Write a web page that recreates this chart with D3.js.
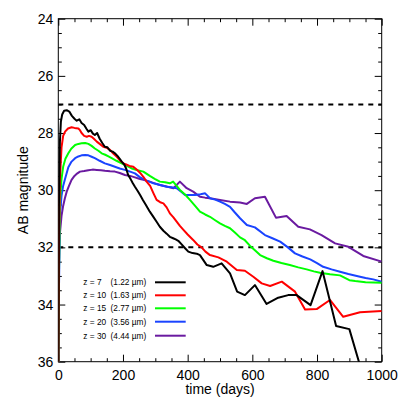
<!DOCTYPE html>
<html><head><meta charset="utf-8">
<script src="https://cdn.jsdelivr.net/npm/d3@7"></script>
<style>
html,body{margin:0;padding:0;background:#fff;}
svg{display:block;}
text{font-family:"Liberation Sans",Arial,Helvetica,sans-serif;fill:#000;}
</style></head>
<body><svg id="c" width="399" height="399"></svg>
<script>
// ---- data ----
const xTicks = [0, 200, 400, 600, 800, 1000];
const yTicks = [24, 26, 28, 30, 32, 34, 36];
const hLines = [27, 32];
const labels = ["z = 7", "z = 10", "z = 15", "z = 20", "z = 30"];
const waves = ["(1.22 µm)", "(1.63 µm)", "(2.77 µm)", "(3.56 µm)", "(4.44 µm)"];
const colors = ["#000000", "#ff0000", "#00ff00", "#1a44ff", "#6a1aa0"];

const t7 = [0,2,5,8,12,18,26,34,42,50,57,65,72,80,87,93,100,107,113,120,128,136,144,152,160,168,175,183,190,196,204,210,216,224,230,237,245,253,262,270,283,295,305,314,325,335,345,355,363,371,380,392,402,415,428,438,459,479,505,531,553,577,608,644,680,711,737,780,817,859,900,945];
const m7 = [36.5,30.5,28.3,27.6,27.35,27.22,27.2,27.25,27.4,27.5,27.57,27.52,27.65,27.72,27.85,27.95,27.9,28.02,28.07,28.0,28.2,28.35,28.48,28.5,28.62,28.65,28.71,28.8,28.9,29.0,29.1,29.25,29.47,29.62,29.75,29.88,30.02,30.17,30.35,30.5,30.75,30.95,31.12,31.28,31.42,31.52,31.63,31.68,31.72,31.77,31.88,32.03,32.15,32.2,32.22,32.27,32.62,32.68,32.56,32.91,33.55,33.67,33.32,33.98,33.76,33.67,33.67,34.02,32.83,34.75,34.86,36.6];

const t10 = [0,2,5,10,15,21,30,41,50,62,67,72,80,88,95,103,110,119,128,139,150,160,170,181,190,201,210,220,232,245,255,263,273,284,294,304,315,325,335,345,356,366,376,387,400,417,430,443,455,469,495,521,552,577,603,629,655,691,732,763,799,840,881,933,1000];
const m10 = [36.5,32.0,29.6,28.5,28.1,27.95,27.84,27.8,27.82,27.84,27.9,28.0,28.1,28.13,28.1,28.13,28.2,28.3,28.38,28.48,28.52,28.59,28.72,28.83,28.95,29.06,29.1,29.15,29.18,29.3,29.42,29.53,29.7,29.85,30.1,30.34,30.42,30.46,30.6,30.81,30.95,31.1,31.25,31.39,31.55,31.74,31.9,32.0,32.15,32.27,32.35,32.5,32.79,32.82,33.03,33.26,33.35,33.2,33.55,34.17,34.16,33.84,34.43,34.27,34.23];

const t15 = [0,2,5,10,15,22,31,40,52,62,72,83,93,103,113,124,134,145,155,165,180,196,212,227,245,263,283,298,314,330,345,355,366,376,392,407,423,438,454,469,485,500,515,531,546,562,577,593,608,624,645,665,690,716,742,768,790,809,840,871,900,918,950,1000];
const m15 = [36.5,33.0,30.4,29.6,29.18,28.9,28.71,28.55,28.42,28.38,28.36,28.35,28.38,28.45,28.54,28.62,28.71,28.76,28.82,28.88,28.97,29.06,29.15,29.24,29.3,29.35,29.5,29.6,29.7,29.72,29.76,29.7,29.85,29.99,30.15,30.34,30.55,30.75,30.85,30.93,31.05,31.16,31.25,31.33,31.48,31.65,31.75,31.95,32.1,32.27,32.38,32.47,32.55,32.62,32.7,32.77,32.84,32.89,32.94,32.98,33.15,33.18,33.22,33.24];

const t20 = [0,2,5,10,15,21,31,41,52,62,72,83,93,103,113,128,144,160,175,190,206,222,237,253,270,294,315,335,350,366,380,392,407,423,440,454,469,485,500,515,531,546,562,583,608,639,662,686,710,732,755,779,800,819,845,871,897,923,950,974,1000];
const m20 = [36.5,33.5,30.9,30.2,29.85,29.6,29.2,29.0,28.88,28.82,28.78,28.77,28.78,28.83,28.88,28.97,29.06,29.12,29.18,29.24,29.29,29.35,29.41,29.55,29.65,29.76,29.82,29.88,29.9,29.93,30.05,30.17,30.17,30.17,30.14,30.11,30.28,30.33,30.4,30.48,30.58,30.78,30.98,31.22,31.3,31.57,31.68,31.8,32.0,32.21,32.32,32.42,32.55,32.68,32.77,32.85,32.93,33.0,33.07,33.12,33.2];

const t30 = [0,1,3,5,10,15,20,26,33,41,50,58,67,80,93,106,119,132,144,160,175,190,206,222,237,250,263,283,298,314,335,356,376,397,417,438,454,469,500,531,562,583,608,639,673,706,742,778,814,856,897,943,1000];
const m30 = [36.5,33.5,32.1,31.5,30.9,30.55,30.3,30.05,29.85,29.64,29.5,29.42,29.35,29.33,29.3,29.28,29.29,29.3,29.32,29.34,29.35,29.4,29.47,29.5,29.55,29.6,29.64,29.7,29.76,29.82,29.87,29.93,29.7,29.93,30.05,30.23,30.26,30.28,30.34,30.4,30.43,30.48,30.28,30.23,30.96,30.9,31.28,31.37,31.57,31.86,31.98,32.3,32.5];

const seriesT = [t7, t10, t15, t20, t30];
const seriesM = [m7, m10, m15, m20, m30];

// ---- chart ----
const svg = d3.select("#c");
const L = 58.3, R = 381.7, T = 18.7, B = 361.7;
const x = d3.scaleLinear().domain([0, 1000]).range([L, R]);
const y = d3.scaleLinear().domain([24, 36]).range([T, B]);

svg.append("defs").append("clipPath").attr("id", "clip")
  .append("rect").attr("x", L).attr("y", T).attr("width", R - L).attr("height", B - T);

const xMinor = d3.range(0, 1001, 50);
const yMinor = d3.range(24, 36.01, 0.5);
function addAxis(gen, tr, vals, size, pad) {
  const g = svg.append("g").attr("transform", tr)
    .call(gen.tickValues(vals).tickSize(-size).tickPadding(pad)
      .tickFormat(pad ? d3.format("d") : ""));
  g.select(".domain").remove();
  g.selectAll(".tick line").attr("stroke", "#000").attr("stroke-width", 1);
  g.selectAll("text").style("font-size", "14px").attr("fill", "#000");
  return g;
}
addAxis(d3.axisBottom(x), `translate(0,${B})`, xMinor.filter(v => v % 200 !== 0), 3.5, 0);
addAxis(d3.axisBottom(x), `translate(0,${B})`, xTicks, 7, 8.4);
addAxis(d3.axisTop(x), `translate(0,${T})`, xMinor.filter(v => v % 200 !== 0), 3.5, 0);
addAxis(d3.axisTop(x), `translate(0,${T})`, xTicks, 7, 0);
addAxis(d3.axisLeft(y), `translate(${L},0)`, yMinor.filter(v => v % 2 !== 0), 3.5, 0);
addAxis(d3.axisLeft(y), `translate(${L},0)`, yTicks, 7, 5);
addAxis(d3.axisRight(y), `translate(${R},0)`, yMinor.filter(v => v % 2 !== 0), 3.5, 0);
addAxis(d3.axisRight(y), `translate(${R},0)`, yTicks, 7, 0);

// frame
svg.append("rect").attr("x", L).attr("y", T).attr("width", R - L).attr("height", B - T)
  .attr("fill", "none").attr("stroke", "#000").attr("stroke-width", 1);

// dashed reference lines
svg.append("g").selectAll("line").data(hLines).join("line")
  .attr("x1", x(0)).attr("x2", x(1000))
  .attr("y1", d => y(d)).attr("y2", d => y(d))
  .attr("stroke", "#000").attr("stroke-width", 2).attr("stroke-dasharray", "5,5");

// curves
const line = d3.line().x(d => x(d[0])).y(d => y(d[1]));
const gc = svg.append("g").attr("clip-path", "url(#clip)");
const order = [4, 3, 2, 1, 0];
order.forEach(i => {
  const pts = seriesT[i].map((t, j) => [t, seriesM[i][j]]);
  gc.append("path").datum(pts).attr("d", line)
    .attr("fill", "none").attr("stroke", colors[i]).attr("stroke-width", 2)
    .attr("stroke-linejoin", "round");
});

// legend
const lg = svg.append("g");
const rowY = [282.3, 295.3, 308.3, 321.7, 335.7];
labels.forEach((lab, i) => {
  lg.append("text").attr("x", 83.3).attr("y", rowY[i]).attr("dy", "0.35em")
    .style("font-size", "8.3px").attr("fill", "#222").text(lab);
  lg.append("text").attr("x", 110.5).attr("y", rowY[i]).attr("dy", "0.35em")
    .style("font-size", "8.3px").attr("fill", "#222").text(waves[i]);
  lg.append("line").attr("x1", 155).attr("x2", 185.7).attr("y1", rowY[i]).attr("y2", rowY[i])
    .attr("stroke", colors[i]).attr("stroke-width", 2);
});

// axis titles
svg.append("text").attr("x", (L + R) / 2).attr("y", 394).attr("text-anchor", "middle")
  .style("font-size", "14px").text("time (days)");
svg.append("text").attr("transform", `translate(28.3,${(T + B) / 2}) rotate(-90)`)
  .attr("text-anchor", "middle").style("font-size", "14px").text("AB magnitude");
</script></body></html>
